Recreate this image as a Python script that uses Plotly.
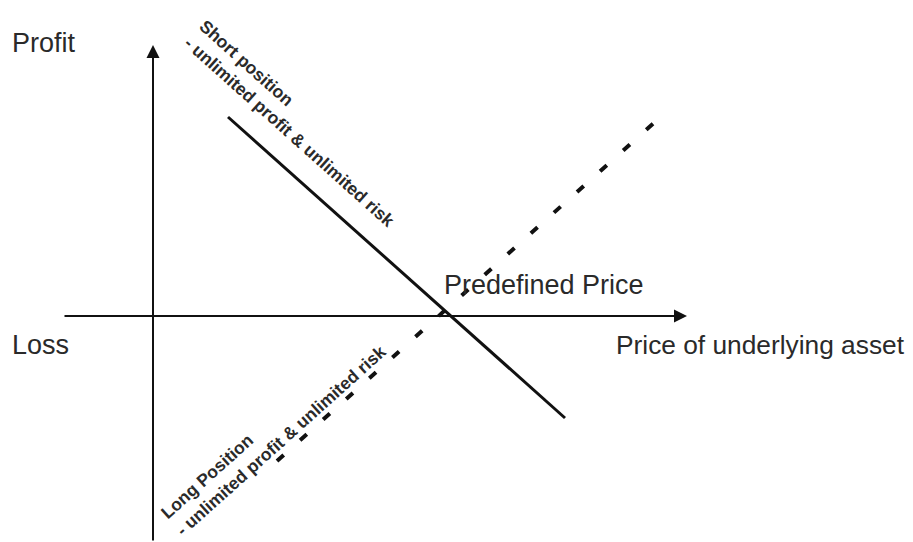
import plotly.graph_objects as go

# Payoff lines (price of underlying vs profit/loss), origin at axes crossing
short_price = [75, 412]
short_profit = [199, -102]
long_price = [124, 502]
long_profit = [-145, 194]
predefined_price = 293

x_axis_extent = [-90, 534]
y_axis_extent = [-226, 271]

labels = {
    "profit": "Profit",
    "loss": "Loss",
    "xtitle": "Price of underlying asset",
    "predef": "Predefined Price",
    "short": "Short position<br>- unlimited profit & unlimited risk",
    "long": "Long Position<br>- unlimited profit & unlimited risk",
}

FONT = "Liberation Sans, Arial, sans-serif"
TXT = "#2a2a2a"

fig = go.Figure()
fig.add_trace(go.Scatter(x=short_price, y=short_profit, mode="lines",
                         line=dict(color="#111111", width=3), hoverinfo="skip"))
fig.add_trace(go.Scatter(x=long_price, y=long_profit, mode="lines",
                         line=dict(color="#111111", width=4, dash="9px,22px"), hoverinfo="skip"))

# axes with arrowheads
fig.add_annotation(x=x_axis_extent[1], y=0, ax=x_axis_extent[0], ay=0, axref="x", ayref="y",
                   xref="x", yref="y", text="", showarrow=True, arrowhead=2, arrowsize=1.3,
                   arrowwidth=2, arrowcolor="#111111")
fig.add_annotation(x=0, y=y_axis_extent[1], ax=0, ay=y_axis_extent[0], axref="x", ayref="y",
                   xref="x", yref="y", text="", showarrow=True, arrowhead=2, arrowsize=1.3,
                   arrowwidth=2, arrowcolor="#111111")

def txt(x, y, t, size=27, bold=False, angle=0, xanchor="left", align="left"):
    fig.add_annotation(x=x, y=y, xref="x", yref="y", text=("<b>%s</b>" % t) if bold else t,
                       showarrow=False, textangle=angle, xanchor=xanchor, yanchor="middle",
                       align=align, font=dict(family=FONT, size=size, color=TXT))

txt(-143, 273, labels["profit"])
txt(-143, -29, labels["loss"])
txt(461, -29, labels["xtitle"], size=26.3)
txt(predefined_price - 4, 31, labels["predef"])
txt(144, 193, labels["short"], size=17.5, bold=True, angle=41.8, xanchor="center")
txt(120, -116, labels["long"], size=17.5, bold=True, angle=-41.9, xanchor="center")

# page body has an 8px margin: figure is placed at (8, 8)
fig.update_layout(
    width=905, height=534, margin=dict(l=0, r=0, t=0, b=0),
    paper_bgcolor="white", plot_bgcolor="white", showlegend=False,
    xaxis=dict(range=[-145, 760], visible=False, fixedrange=True),
    yaxis=dict(range=[-226, 308], visible=False, fixedrange=True),
)
fig.write_html("out.html")
